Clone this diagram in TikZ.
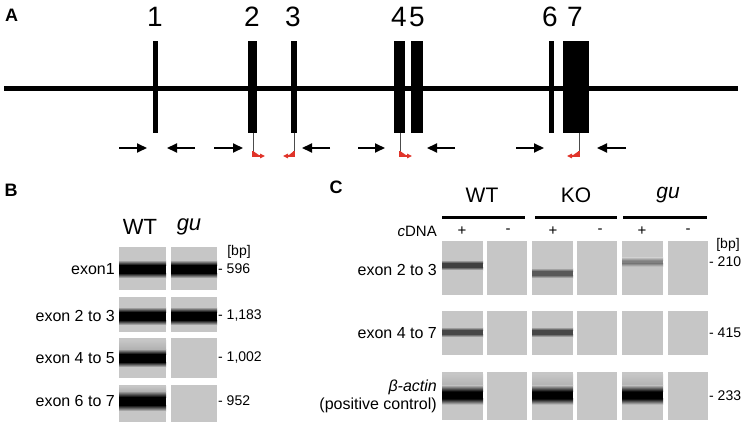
\documentclass[tikz,border=0pt]{standalone}
\usepackage{fontspec}
\setmainfont{Liberation Sans}
\usetikzlibrary{arrows.meta}
\definecolor{lanegray}{HTML}{C6C6C6}
\definecolor{halogray}{HTML}{B2B2B2}
\definecolor{primred}{HTML}{E0342A}
\newcommand\gelband[7]{% x1, x2, yc, core, fade, band colour, colour just above the band
  \shade[top color=#7, bottom color=#6] ({#1},{#3-#4/2-#5}) rectangle ({#2},{#3-#4/2});
  \fill[#6] ({#1},{#3-#4/2}) rectangle ({#2},{#3+#4/2});
  \shade[top color=#6, bottom color=lanegray] ({#1},{#3+#4/2}) rectangle ({#2},{#3+#4/2+#5});
}
\newcommand\gelhalo[4]{% x1, x2, ytop, ybottom : slight darkening above a strong band
  \shade[top color=lanegray, bottom color=halogray] ({#1},{#3}) rectangle ({#2},{#4});
}
\begin{document}
\begin{tikzpicture}[x=1pt,y=-1pt,
  panel/.style={font=\fontsize{18}{20}\selectfont\bfseries, inner sep=0},
  exnum/.style={font=\fontsize{28}{30}\selectfont, inner sep=0, anchor=base},
  head/.style={font=\fontsize{22}{24}\selectfont, inner sep=0},
  lbl/.style={font=\fontsize{16}{18}\selectfont, inner sep=0, anchor=east},
  size/.style={font=\fontsize{14}{16}\selectfont, inner sep=0, anchor=west},
  exon/.style={fill=black},
  primer/.style={-{Triangle[length=10pt,width=9pt]}, line width=2pt},
  rstem/.style={line width=0.8pt, draw=black!70},
  rtip/.style={-{Triangle[length=5pt,width=4.5pt]}, line width=1.2pt, draw=primred, fill=primred},
  lane/.style={fill=lanegray},
  bar/.style={line width=3pt}
]
\useasboundingbox (0,0) rectangle (742,425);

% ---------------- Panel A ----------------
\node[panel] (pA) at (11.5,15) {A};
\coordinate (gl) at (4,88.5);
\coordinate (gr) at (738,88.5);
\draw[line width=5.5pt] (gl) -- (gr);
\fill[exon] (152.5,41) rectangle (158,133);
\fill[exon] (248,41) rectangle (257,133);
\fill[exon] (291,41) rectangle (297,133);
\fill[exon] (394,41) rectangle (405,133);
\fill[exon] (411,41) rectangle (423,133);
\fill[exon] (549,41) rectangle (553.5,133);
\fill[exon] (563,41) rectangle (589,133);
\node[exnum] (n1) at (155,27) {1};
\node[exnum] (n2) at (252,27) {2};
\node[exnum] (n3) at (293,27) {3};
\node[exnum] (n4) at (399,27) {4};
\node[exnum] (n5) at (417,27) {5};
\node[exnum] (n6) at (550,27) {6};
\node[exnum] (n7) at (575,27) {7};

% black primers
\foreach \i/\a/\b in {1/119/147, 2/195/167, 3/214/243, 4/330/302, 5/358/385, 6/455/427, 7/516/544, 8/626/597}{
  \coordinate (p\i s) at (\a,148);
  \coordinate (p\i e) at (\b,148);
  \draw[primer] (p\i s) -- (p\i e);
}
% red primers
\foreach \i/\x/\e in {a/253/265, b/294/283, c/400/412, d/579/567}{
  \coordinate (r\i t) at (\x,133);
  \coordinate (r\i m) at (\x,151);
  \coordinate (r\i c) at (\x,156);
  \coordinate (r\i e) at (\e,156);
  \draw[rstem] (r\i t) -- (r\i m);
  \draw[rtip] (r\i m) -- (r\i c) -- (r\i e);
}

% ---------------- Panel B ----------------
\node[panel] (pB) at (11,190) {B};
\node[head] (bWT) at (140,227) {WT};
\node[head, font=\fontsize{22}{24}\selectfont\itshape] (bgu) at (189,227) {gu};
\foreach \r/\ya/\yb in {1/247/290, 2/297/332, 3/338/378, 4/385/422}{
  \fill[lane] (119,\ya) rectangle (166,\yb);
  \fill[lane] (171,\ya) rectangle (217,\yb);
}
\gelhalo{119}{166}{340}{349}
\gelhalo{119}{166}{386}{391}
\gelband{119}{166}{269}{8}{5}{black}{lanegray}
\gelband{171}{217}{269}{8}{5}{black}{lanegray}
\gelband{119}{166}{316}{8}{5}{black}{lanegray}
\gelband{171}{217}{316}{8}{5}{black}{lanegray}
\gelband{119}{166}{358}{8}{5}{black}{halogray}
\gelband{119}{166}{401}{8}{6}{black}{halogray}
\node[lbl] (bl1) at (115,269) {exon1};
\node[lbl] (bl2) at (115,316) {exon 2 to 3};
\node[lbl] (bl3) at (115,358) {exon 4 to 5};
\node[lbl] (bl4) at (115,401) {exon 6 to 7};
\node[size, anchor=center] (bbp) at (239,252) {[bp]};
\node[size] (bs1) at (218,269) {- 596};
\node[size] (bs2) at (218,316) {- 1,183};
\node[size] (bs3) at (218,358) {- 1,002};
\node[size] (bs4) at (218,401) {- 952};

% ---------------- Panel C ----------------
\node[panel] (pC) at (336,187) {C};
\node[head, font=\fontsize{21}{23}\selectfont] (cWT) at (482,195) {WT};
\node[head, font=\fontsize{21}{23}\selectfont] (cKO) at (576,195) {KO};
\node[head, font=\fontsize{21}{23}\selectfont\itshape] (cgu) at (668,195) {gu};
\coordinate (w1) at (442,217); \coordinate (w2) at (525,217);
\coordinate (k1) at (535,217); \coordinate (k2) at (617,217);
\coordinate (g1) at (623,217); \coordinate (g2) at (707,217);
\draw[bar] (w1) -- (w2);
\draw[bar] (k1) -- (k2);
\draw[bar] (g1) -- (g2);
\node[lbl, font=\fontsize{15}{17}\selectfont] (cdna) at (437,231) {\textit{c}DNA};
\foreach \i/\x/\s in {1/462/+, 2/508/-, 3/553/+, 4/600/-, 5/642/+, 6/688/-}{
  \node[font=\fontsize{15}{17}\selectfont, inner sep=0] (pm\i) at (\x,231) {\s};
}
\foreach \r/\ya/\yb in {1/241/295, 2/311/355, 3/372/420}{
  \foreach \xa/\xb in {442/483, 487/527, 532/573, 577/617, 622/663, 668/708}{
    \fill[lane] (\xa,\ya) rectangle (\xb,\yb);
  }
}
\gelhalo{442}{483}{374}{385.5}
\gelhalo{532}{573}{374}{385.5}
\gelhalo{622}{663}{374}{385.5}
\gelband{442}{483}{265}{4}{3}{black!75}{lanegray}
\gelband{532}{573}{273}{4}{3}{black!65}{lanegray}
\gelband{622}{663}{262}{3}{3}{black!50}{lanegray}
\gelband{442}{483}{332}{4}{3}{black!72}{lanegray}
\gelband{532}{573}{332}{4}{3}{black!72}{lanegray}
\gelband{442}{483}{395}{7}{6}{black}{halogray}
\gelband{532}{573}{395}{7}{6}{black}{halogray}
\gelband{622}{663}{395}{7}{6}{black}{halogray}
\node[lbl] (cl1) at (437,270) {exon 2 to 3};
\node[lbl] (cl2) at (437,333) {exon 4 to 7};
\node[lbl] (cl3) at (437,387) {\textit{β-actin}};
\node[lbl] (cl4) at (437,405) {(positive control)};
\node[size, anchor=center] (cbp) at (728,245) {[bp]};
\node[size] (cs1) at (709,262) {- 210};
\node[size] (cs2) at (709,333) {- 415};
\node[size] (cs3) at (709,396) {- 233};
\end{tikzpicture}
\end{document}
